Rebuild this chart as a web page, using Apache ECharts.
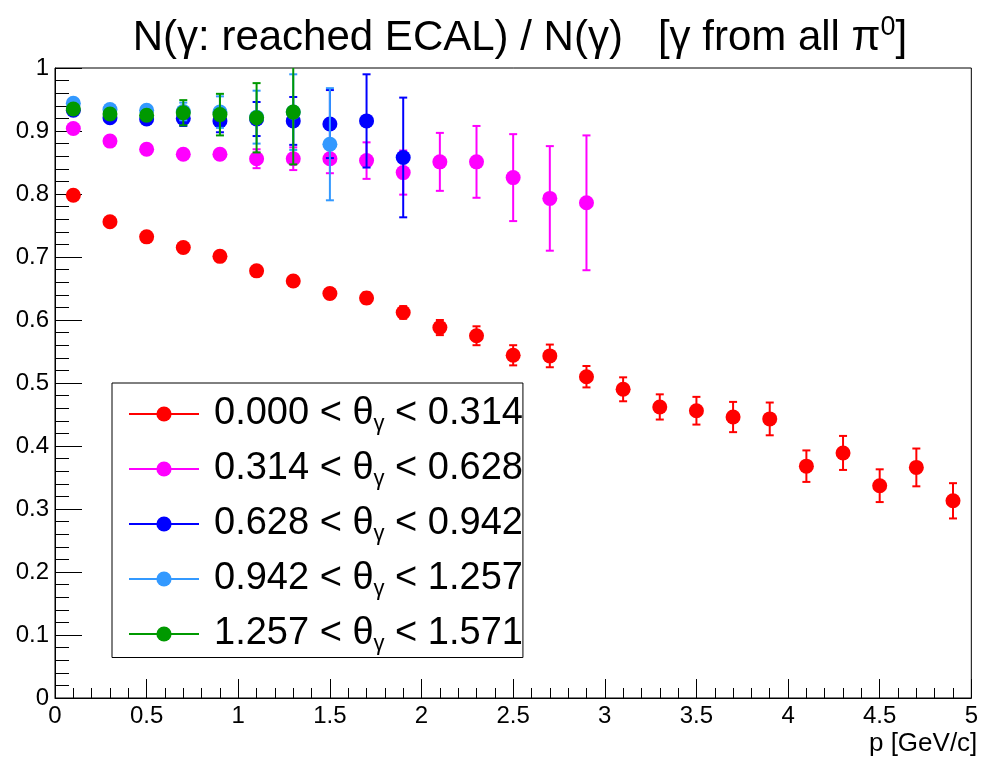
<!DOCTYPE html>
<html>
<head>
<meta charset="utf-8">
<script src="https://cdn.jsdelivr.net/npm/echarts@6/dist/echarts.min.js"></script>
<style>
html,body{margin:0;padding:0;background:#fff;}
#main{width:981px;height:757px;}
</style>
</head>
<body>
<div id="main"></div>
<script>
// ---- data ----
var pValues = [0.1,0.3,0.5,0.7,0.9,1.1,1.3,1.5,1.7,1.9,2.1,2.3,2.5,2.7,2.9,3.1,3.3,3.5,3.7,3.9,4.1,4.3,4.5,4.7,4.9];

var thetaEdges = ["0.000", "0.314", "0.628", "0.942", "1.257", "1.571"];

var red    = [0.798,0.756,0.732,0.715,0.701,0.678,0.662,0.642,0.635,0.612,0.588,0.575,0.544,0.543,0.510,0.490,0.462,0.456,0.446,0.443,0.368,0.389,0.337,0.366,0.313];
var redErr = [0.004,0.005,0.005,0.006,0.006,0.007,0.008,0.008,0.009,0.010,0.012,0.015,0.016,0.018,0.017,0.019,0.020,0.022,0.024,0.026,0.025,0.027,0.026,0.030,0.028];

var magenta    = [0.904,0.884,0.871,0.863,0.863,0.856,0.856,0.856,0.853,0.834,0.851,0.851,0.826,0.793,0.786];
var magentaErr = [0.003,0.004,0.005,0.006,0.008,0.015,0.018,0.023,0.029,0.035,0.046,0.057,0.069,0.083,0.107];

var blue    = [0.933,0.921,0.919,0.920,0.916,0.919,0.916,0.911,0.916,0.858];
var blueErr = [0.003,0.005,0.006,0.012,0.018,0.027,0.038,0.054,0.074,0.095];

var lightBlue    = [0.944,0.934,0.933,0.931,0.930,0.922,0.930,0.879];
var lightBlueErr = [0.003,0.005,0.007,0.014,0.025,0.042,0.060,0.089];

var green    = [0.935,0.927,0.925,0.929,0.926,0.921,0.930];
var greenErr = [0.003,0.005,0.008,0.020,0.033,0.055,0.083];

var xTicks = [0,0.5,1,1.5,2,2.5,3,3.5,4,4.5,5];
var yTicks = [0,0.1,0.2,0.3,0.4,0.5,0.6,0.7,0.8,0.9,1];

var colors = ["#ff0000","#ff00ff","#0000ff","#3399ff","#009900"];
var values = [red, magenta, blue, lightBlue, green];
var errors = [redErr, magentaErr, blueErr, lightBlueErr, greenErr];

// ---- build ----
function plainName(i){ return thetaEdges[i] + " < θγ < " + thetaEdges[i+1]; }
function richName(i){ return "{t|" + thetaEdges[i] + " < θ}{s|γ}{t| < " + thetaEdges[i+1] + "}"; }

function errRenderer(color){
  return function(params, api){
    var x = api.value(0), y = api.value(1), e = api.value(2);
    var top = api.coord([x, y + e]);
    var bot = api.coord([x, y - e]);
    var hw = 4;
    var st = {stroke: color, lineWidth: 2};
    return {type:'group', children:[
      {type:'line', shape:{x1:top[0], y1:top[1], x2:bot[0], y2:bot[1]}, style:st},
      {type:'line', shape:{x1:top[0]-hw, y1:top[1], x2:top[0]+hw, y2:top[1]}, style:st},
      {type:'line', shape:{x1:bot[0]-hw, y1:bot[1], x2:bot[0]+hw, y2:bot[1]}, style:st}
    ]};
  };
}

var series = [];
var legendData = [];
var nameToRich = {};
for (var i = 0; i < values.length; i++) {
  var pts = [], errs = [];
  for (var j = 0; j < values[i].length; j++) {
    pts.push([pValues[j], values[i][j]]);
    errs.push([pValues[j], values[i][j], errors[i][j]]);
  }
  var name = plainName(i);
  legendData.push(name);
  nameToRich[name] = richName(i);
  series.push({
    type:'custom', name: 'err' + i, data: errs, renderItem: errRenderer(colors[i]),
    clip: true, z: 2 + 2*i, silent: true, encode:{x:0, y:1}
  });
  series.push({
    type:'line', name: name, data: pts, symbol:'circle', symbolSize:15, showAllSymbol:true,
    itemStyle:{color: colors[i]}, lineStyle:{color: colors[i], width:2, opacity:0},
    z: 3 + 2*i, silent:true, emphasis:{disabled:true}
  });
}

var chart = echarts.init(document.getElementById('main'), null, {renderer:'canvas'});
var font = "Liberation Sans, Arial, Helvetica, sans-serif";
chart.setOption({
  animation:false,
  backgroundColor:'#fff',
  textStyle:{fontFamily:font},
  title:{
    text:"{t|N(γ: reached ECAL) / N(γ)   [γ from all π}{sup|0}{t|]}",
    left: 515, top: 9, textAlign:'center',
    textStyle:{
      fontWeight:'normal',
      rich:{
        t:{fontSize:42, fontFamily:font, fontWeight:'normal', color:'#000', lineHeight:48},
        sup:{fontSize:27, fontFamily:font, fontWeight:'normal', color:'#000', verticalAlign:'top', lineHeight:30}
      }
    }
  },
  grid:{left:55, right:4, top:68, bottom:59, show:true, borderColor:'#000', borderWidth:1, backgroundColor:'transparent'},
  xAxis:{
    type:'value', min:xTicks[0], max:xTicks[xTicks.length-1], interval:0.5,
    name:'p [GeV/c]', nameLocation:'end', nameGap:6,
    nameTextStyle:{fontSize:26, color:'#000', fontFamily:font, align:'right', verticalAlign:'top', padding:[33,0,0,0]},
    axisLine:{onZero:false, lineStyle:{color:'#000', width:1}},
    axisTick:{inside:true, length:19, lineStyle:{color:'#000', width:1}},
    minorTick:{show:true, splitNumber:5, length:10, lineStyle:{color:'#000', width:1}},
    axisLabel:{fontSize:24, color:'#000', margin:6, fontFamily:font},
    splitLine:{show:false}
  },
  yAxis:{
    type:'value', min:yTicks[0], max:yTicks[yTicks.length-1], interval:0.1,
    axisLine:{show:true, onZero:false, lineStyle:{color:'#000', width:1}},
    axisTick:{show:true, inside:true, length:27, lineStyle:{color:'#000', width:1}},
    minorTick:{show:true, splitNumber:5, length:14, lineStyle:{color:'#000', width:1}},
    axisLabel:{fontSize:24, color:'#000', margin:6, fontFamily:font},
    splitLine:{show:false}
  },
  legend:{
    data: legendData,
    orient:'vertical', left:112, top:383,
    padding:[12,0,3,16], itemGap:15.5,
    itemWidth:70, itemHeight:19,
    backgroundColor:'#fff', borderColor:'#000', borderWidth:1,
    lineStyle:{opacity:1, width:2},
    selectedMode:false,
    formatter:function(n){ return nameToRich[n]; },
    textStyle:{
      padding:[0,0,0,10],
      rich:{
        t:{fontSize:38, fontFamily:font, color:'#000', lineHeight:41},
        s:{fontSize:22, fontFamily:font, color:'#000', lineHeight:22, verticalAlign:'bottom'}
      }
    }
  },
  series: series
});
</script>
</body>
</html>
